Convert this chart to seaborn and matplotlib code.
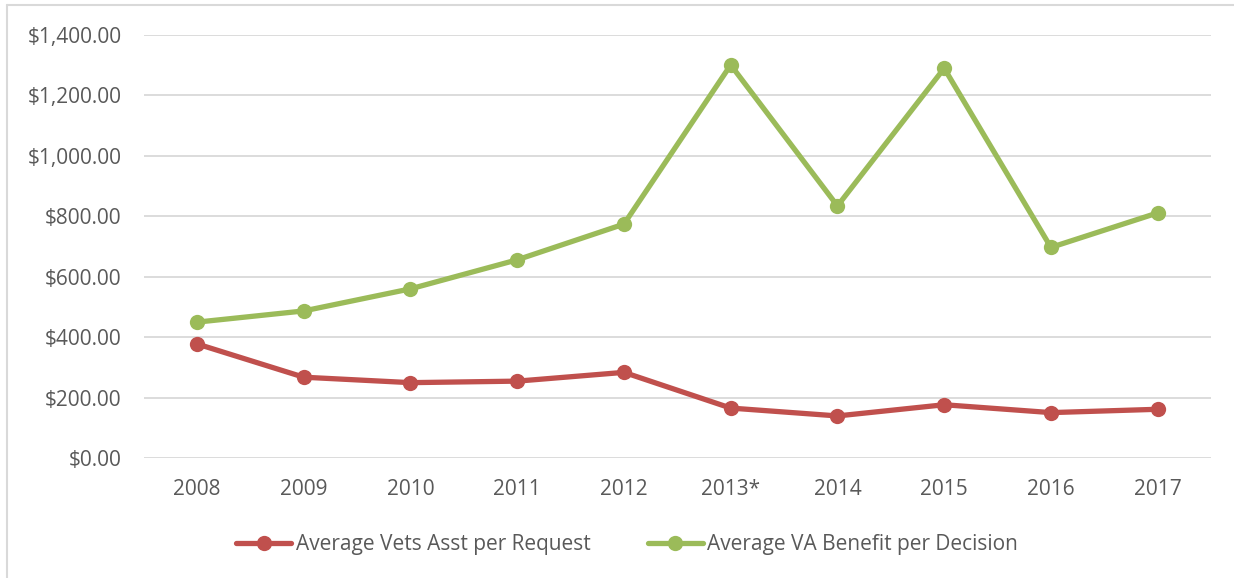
import pandas as pd
import matplotlib.pyplot as plt
import seaborn as sns
from matplotlib.lines import Line2D
from matplotlib.ticker import FuncFormatter

# Data
years = ['2008', '2009', '2010', '2011', '2012', '2013*', '2014', '2015', '2016', '2017']
vets_asst = [378, 268, 250, 255, 284, 166, 140, 177, 151, 162]
va_benefit = [450, 487, 560, 656, 774, 1300, 834, 1289, 697, 811]

red = '#C0504D'
green = '#9BBB59'
grey_text = '#595959'

sns.set_theme(style='white')
plt.rcParams['font.family'] = ['Open Sans', 'DejaVu Sans']

df = pd.DataFrame({'year': years, 'vets': vets_asst, 'va': va_benefit})
df['pos'] = range(len(years))

fig = plt.figure(figsize=(12.34, 5.78), dpi=100)
ax = fig.add_axes([0.1164, 0.2071, 0.9814 - 0.1164, 0.940 - 0.2071])

sns.lineplot(data=df, x='pos', y='vets', ax=ax, color=red, linewidth=3.8,
             marker='o', markersize=11, markeredgewidth=0,
             label='Average Vets Asst per Request')
sns.lineplot(data=df, x='pos', y='va', ax=ax, color=green, linewidth=3.8,
             marker='o', markersize=11, markeredgewidth=0,
             label='Average VA Benefit per Decision')

ax.set_xlim(-0.5, len(years) - 0.5)
ax.set_ylim(0, 1400)
ax.set_yticks(range(0, 1401, 200))
ax.yaxis.set_major_formatter(FuncFormatter(lambda v, p: f'${v:,.2f}'))
ax.set_xticks(df['pos'])
ax.set_xticklabels(years)
ax.set_xlabel('')
ax.set_ylabel('')

ax.grid(axis='y', color='#D9D9D9', linewidth=1.3)
ax.set_axisbelow(True)
for s in ax.spines.values():
    s.set_visible(False)
ax.tick_params(axis='both', length=0, labelsize=15, colors=grey_text)
ax.tick_params(axis='y', pad=16)
ax.tick_params(axis='x', pad=15)

ax.get_legend().remove()
handles = [
    Line2D([], [], color=red, linewidth=3.8, marker='o', markersize=11, markeredgewidth=0),
    Line2D([], [], color=green, linewidth=3.8, marker='o', markersize=11, markeredgewidth=0),
]
fig.legend(handles, ['Average Vets Asst per Request', 'Average VA Benefit per Decision'],
           loc='center', bbox_to_anchor=(0.5 + 10 / 1234, 1 - 544.5 / 578), ncol=2,
           frameon=False, fontsize=15, labelcolor=grey_text, handlelength=2.65,
           handletextpad=0.2, columnspacing=2.75)

# outer chart frame (cropped at right and bottom)
fig.add_artist(Line2D([7 / 1234, 7 / 1234], [0, 1 - 5 / 578], transform=fig.transFigure,
                      color='#D9D9D9', linewidth=1.5))
fig.add_artist(Line2D([7 / 1234, 1], [1 - 5 / 578, 1 - 5 / 578], transform=fig.transFigure,
                      color='#D9D9D9', linewidth=1.5))

fig.savefig('out.png', dpi=100)
